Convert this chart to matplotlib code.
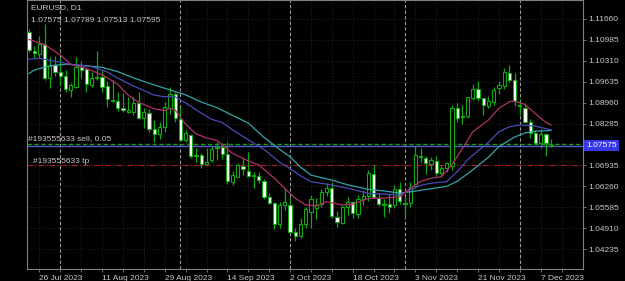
import numpy as np
import matplotlib
matplotlib.use("Agg")
import matplotlib.pyplot as plt
import matplotlib.transforms as mtransforms

# EURUSD D1, 24 Jul 2023 .. 11 Dec 2023
opens = [1.1123, 1.1064, 1.1053, 1.1084, 1.0974, 1.1017, 1.0996, 1.0983, 1.0937, 1.0948,
         1.1010, 1.1003, 1.0953, 1.0980, 1.0980, 1.0950, 1.0904, 1.0902, 1.0878, 1.0867,
         1.0865, 1.0896, 1.0845, 1.0861, 1.0810, 1.0795, 1.0818, 1.0878, 1.0923, 1.0842,
         1.0775, 1.0792, 1.0724, 1.0726, 1.0697, 1.0711, 1.0754, 1.0754, 1.0729, 1.0641,
         1.0657, 1.0693, 1.0676, 1.0659, 1.0659, 1.0643, 1.0592, 1.0573, 1.0503, 1.0564,
         1.0566, 1.0477, 1.0467, 1.0503, 1.0544, 1.0555, 1.0569, 1.0608, 1.0621, 1.0528,
         1.0507, 1.0560, 1.0576, 1.0535, 1.0585, 1.0596, 1.0666, 1.0589, 1.0568, 1.0568,
         1.0566, 1.0616, 1.0573, 1.0571, 1.0627, 1.0724, 1.0716, 1.0699, 1.0708, 1.0668,
         1.0684, 1.0690, 1.0878, 1.0853, 1.0853, 1.0910, 1.0939, 1.0910, 1.0886, 1.0899,
         1.0942, 1.0951, 1.0991, 1.0969, 1.0888, 1.0878, 1.0835, 1.0797, 1.0765, 1.0794,
         1.07575]
highs = [1.1134, 1.1080, 1.1110, 1.1149, 1.1043, 1.1046, 1.1039, 1.1000, 1.0960, 1.1042,
         1.1030, 1.1005, 1.0996, 1.1063, 1.1000, 1.0965, 1.0969, 1.0930, 1.0926, 1.0915,
         1.0915, 1.0931, 1.0878, 1.0876, 1.0840, 1.0835, 1.0899, 1.0948, 1.0930, 1.0882,
         1.0809, 1.0795, 1.0751, 1.0733, 1.0748, 1.0757, 1.0770, 1.0766, 1.0768, 1.0675,
         1.0700, 1.0718, 1.0738, 1.0673, 1.0671, 1.0650, 1.0605, 1.0576, 1.0575, 1.0619,
         1.0592, 1.0490, 1.0525, 1.0559, 1.0598, 1.0589, 1.0616, 1.0635, 1.0640, 1.0545,
         1.0565, 1.0590, 1.0580, 1.0597, 1.0615, 1.0677, 1.0695, 1.0605, 1.0585, 1.0600,
         1.0630, 1.0640, 1.0590, 1.0640, 1.0756, 1.0748, 1.0725, 1.0722, 1.0723, 1.0694,
         1.0704, 1.0887, 1.0895, 1.0888, 1.0913, 1.0956, 1.0965, 1.0912, 1.0918, 1.0946,
         1.0965, 1.1009, 1.1017, 1.0992, 1.0905, 1.0894, 1.0843, 1.0809, 1.0810, 1.0797,
         1.07789]
lows = [1.1060, 1.1041, 1.1039, 1.0969, 1.0944, 1.0983, 1.0953, 1.0931, 1.0915, 1.0942,
        1.0975, 1.0931, 1.0946, 1.0969, 1.0930, 1.0883, 1.0897, 1.0870, 1.0867, 1.0862,
        1.0856, 1.0843, 1.0813, 1.0802, 1.0770, 1.0780, 1.0800, 1.0860, 1.0834, 1.0771,
        1.0770, 1.0716, 1.0705, 1.0685, 1.0695, 1.0705, 1.0711, 1.0715, 1.0632, 1.0631,
        1.0655, 1.0663, 1.0655, 1.0619, 1.0635, 1.0586, 1.0570, 1.0488, 1.0492, 1.0549,
        1.0475, 1.0449, 1.0460, 1.0490, 1.0490, 1.0522, 1.0560, 1.0596, 1.0525, 1.0496,
        1.0505, 1.0533, 1.0525, 1.0524, 1.0565, 1.0580, 1.0587, 1.0563, 1.0528, 1.0540,
        1.0555, 1.0570, 1.0520, 1.0560, 1.0620, 1.0705, 1.0667, 1.0680, 1.0659, 1.0655,
        1.0673, 1.0680, 1.0835, 1.0828, 1.0846, 1.0905, 1.0901, 1.0856, 1.0878, 1.0888,
        1.0925, 1.0939, 1.0962, 1.0884, 1.0856, 1.0830, 1.0782, 1.0762, 1.0750, 1.0724,
        1.07513]
closes = [1.1066, 1.1055, 1.1085, 1.0974, 1.1015, 1.0996, 1.0983, 1.0939, 1.0953, 1.1012,
          1.1001, 1.0956, 1.0977, 1.0974, 1.0946, 1.0908, 1.0901, 1.0880, 1.0873, 1.0872,
          1.0896, 1.0848, 1.0865, 1.0811, 1.0795, 1.0818, 1.0883, 1.0923, 1.0845, 1.0775,
          1.0797, 1.0724, 1.0727, 1.0697, 1.0703, 1.0745, 1.0751, 1.0729, 1.0644, 1.0662,
          1.0695, 1.0681, 1.0660, 1.0661, 1.0646, 1.0592, 1.0573, 1.0504, 1.0566, 1.0574,
          1.0479, 1.0467, 1.0503, 1.0553, 1.0585, 1.0566, 1.0606, 1.0619, 1.0530, 1.0510,
          1.0560, 1.0576, 1.0539, 1.0585, 1.0596, 1.0668, 1.0592, 1.0568, 1.0565, 1.0560,
          1.0617, 1.0578, 1.0569, 1.0623, 1.0727, 1.0719, 1.0700, 1.0710, 1.0668, 1.0684,
          1.0700, 1.0878, 1.0845, 1.0849, 1.0913, 1.0939, 1.0910, 1.0888, 1.0901, 1.0937,
          1.0953, 1.0994, 1.0969, 1.0901, 1.0885, 1.0835, 1.0797, 1.0765, 1.0794, 1.0765,
          1.07595]

# moving averages, read at selected bars
ma_fast_bars = [0, 3, 6, 8, 11, 14, 17, 19, 21, 24, 26, 27, 28, 30, 32, 34, 36, 39, 42, 44,
                47, 49, 51, 53, 55, 57, 60, 62, 65, 68, 71, 73, 75, 77, 79, 81, 83, 85, 88,
                90, 92, 93, 95, 97, 99, 100]
ma_fast = [1.1100, 1.1083, 1.1050, 1.1020, 1.1006, 1.0986, 1.0955, 1.0920, 1.0897, 1.0876,
           1.0870, 1.0878, 1.0872, 1.0826, 1.0795, 1.0782, 1.0774, 1.0732, 1.0708, 1.0695,
           1.0652, 1.0619, 1.0587, 1.0566, 1.0563, 1.0576, 1.0566, 1.0568, 1.0587, 1.0588,
           1.0592, 1.0619, 1.0642, 1.0652, 1.0657, 1.0695, 1.0748, 1.0802, 1.0840, 1.0878,
           1.0899, 1.0901, 1.0890, 1.0860, 1.0832, 1.0824]
ma_mid_bars = [0, 2, 5, 8, 12, 15, 17, 20, 24, 26, 28, 30, 33, 35, 37, 39, 42, 45, 48, 50,
               52, 54, 58, 61, 65, 68, 71, 73, 75, 77, 80, 82, 84, 88, 90, 92, 94, 97, 100]
ma_mid = [1.1036, 1.1039, 1.1029, 1.1020, 1.1012, 1.0995, 1.0975, 1.0950, 1.0920, 1.0915,
          1.0915, 1.0895, 1.0862, 1.0842, 1.0832, 1.0808, 1.0776, 1.0745, 1.0704, 1.0683,
          1.0660, 1.0641, 1.0630, 1.0620, 1.0603, 1.0601, 1.0598, 1.0614, 1.0629, 1.0636,
          1.0641, 1.0673, 1.0712, 1.0768, 1.0802, 1.0818, 1.0824, 1.0820, 1.0808]
ma_slow_bars = [0, 1, 4, 7, 11, 14, 17, 20, 24, 27, 30, 33, 36, 38, 42, 45, 48, 50, 52, 54,
                58, 61, 65, 68, 71, 73, 77, 80, 82, 85, 88, 90, 93, 95, 97, 100]
ma_slow = [1.0990, 1.1001, 1.1015, 1.1020, 1.1015, 1.1010, 1.0996, 1.0976, 1.0953, 1.0937,
           1.0921, 1.0898, 1.0880, 1.0863, 1.0830, 1.0784, 1.0745, 1.0721, 1.0688, 1.0662,
           1.0646, 1.0631, 1.0616, 1.0611, 1.0604, 1.0608, 1.0618, 1.0626, 1.0642, 1.0679,
           1.0720, 1.0754, 1.0785, 1.0798, 1.0804, 1.0806]

date_labels = ["26 Jul 2023", "11 Aug 2023", "29 Aug 2023", "14 Sep 2023", "2 Oct 2023",
               "18 Oct 2023", "3 Nov 2023", "21 Nov 2023", "7 Dec 2023"]
date_label_bars = [2, 14, 26, 38, 50, 62, 74, 86, 98]
month_start_bars = [6, 29, 50, 72, 94]
price_ticks = [1.11660, 1.10985, 1.10310, 1.09635, 1.08960, 1.08285, 1.07610,
               1.06935, 1.06260, 1.05585, 1.04910, 1.04235]

bid = 1.07575
order_price = 1.07640
tp_price = 1.06935

o = np.array(opens); h = np.array(highs); l = np.array(lows); c = np.array(closes)
x = np.arange(len(c))
up = c >= o

green = "#12a812"
txt = "#c8c8c8"

fig = plt.figure(figsize=(6.25, 2.81), dpi=100, facecolor="black")
ax = fig.add_axes([27 / 625, 12 / 281, 556 / 625, 269 / 281], facecolor="black")

# grid (the 1.07610 label sits under the bid box, so leave it blank)
ax.set_yticks(price_ticks)
ax.set_yticklabels(["" if abs(p - bid) < 0.001 else f"{p:.5f}" for p in price_ticks])
grid_bars = np.arange(2, 106, 4)
ax.set_xticks(grid_bars)
ax.set_xticklabels([date_labels[date_label_bars.index(b)] if b in date_label_bars else ""
                    for b in grid_bars], ha="left")
ax.grid(True, color="#262626", linestyle=(0, (1, 2)), linewidth=0.7)
ax.set_axisbelow(True)

# period separators
for b in month_start_bars:
    ax.axvline(b, color="#9a9a9a", linestyle=(0, (3, 2)), linewidth=0.8, zorder=1)

# candles
ax.vlines(x, l, h, color=green, linewidth=0.9, zorder=3)
body = np.maximum(np.abs(c - o), 0.00003)
ax.bar(x, body, bottom=np.minimum(o, c), width=0.62,
       color=np.where(up, "black", "white"), edgecolor=green, linewidth=0.8, zorder=4)

# moving averages
ax.plot(ma_slow_bars, ma_slow, color="#34a4a8", linewidth=0.9, zorder=5)
ax.plot(ma_mid_bars, ma_mid, color="#4a4ab8", linewidth=0.9, zorder=5)
ax.plot(ma_fast_bars, ma_fast, color="#b03068", linewidth=0.9, zorder=5)

# trade lines
ax.axhline(order_price, color="#10a010", linestyle=(0, (3, 2)), linewidth=1.0, zorder=2)
ax.axhline(bid, color="#5a5ad0", linewidth=1.0, zorder=2)
ax.axhline(tp_price, color="#b01818", linestyle=(0, (5, 2, 1, 2)), linewidth=0.8, zorder=2)

mixed = mtransforms.blended_transform_factory(ax.transAxes, ax.transData)
ax.text(0.002, 1.07786, "#193555633 sell, 0.05", transform=mixed,
        color=txt, fontsize=6, family="Liberation Sans", va="center", ha="left", zorder=6)
ax.text(0.011, 1.07076, "#193555633 tp", transform=mixed,
        color=txt, fontsize=6, family="Liberation Sans", va="center", ha="left", zorder=6)

ax.text(0.007, 1 - 8 / 269, "EURUSD, D1", transform=ax.transAxes, color=txt,
        fontsize=6, family="Liberation Sans", va="center", ha="left")
ax.text(0.007, 1 - 20 / 269, f"{opens[-1]:.5f} {highs[-1]:.5f} {lows[-1]:.5f} {closes[-1]:.5f}",
        transform=ax.transAxes, color=txt, fontsize=6, family="Liberation Sans",
        va="center", ha="left")

# current price box on the scale
ax.text(1.0 + 3 / 556, bid, f"{bid:.5f}", transform=mixed,
        color="white", fontsize=6, family="Liberation Sans", va="center", ha="left",
        bbox=dict(boxstyle="square,pad=0.25", fc="#3838e8", ec="none"), clip_on=False, zorder=10)

ax.set_xlim(-0.38, 106.1)
ax.set_ylim(1.03590, 1.12273)

ax.yaxis.tick_right()
ax.tick_params(axis="both", colors="#808080", labelcolor=txt, labelsize=6, length=2.5, width=0.6)
ax.tick_params(axis="y", pad=1.5)
ax.tick_params(axis="x", pad=1.5)
for lab in ax.get_xticklabels() + ax.get_yticklabels():
    lab.set_family("Liberation Sans")
for s in ax.spines.values():
    s.set_color("#808080")
    s.set_linewidth(0.8)

fig.savefig("out.png", dpi=100, facecolor="black")
